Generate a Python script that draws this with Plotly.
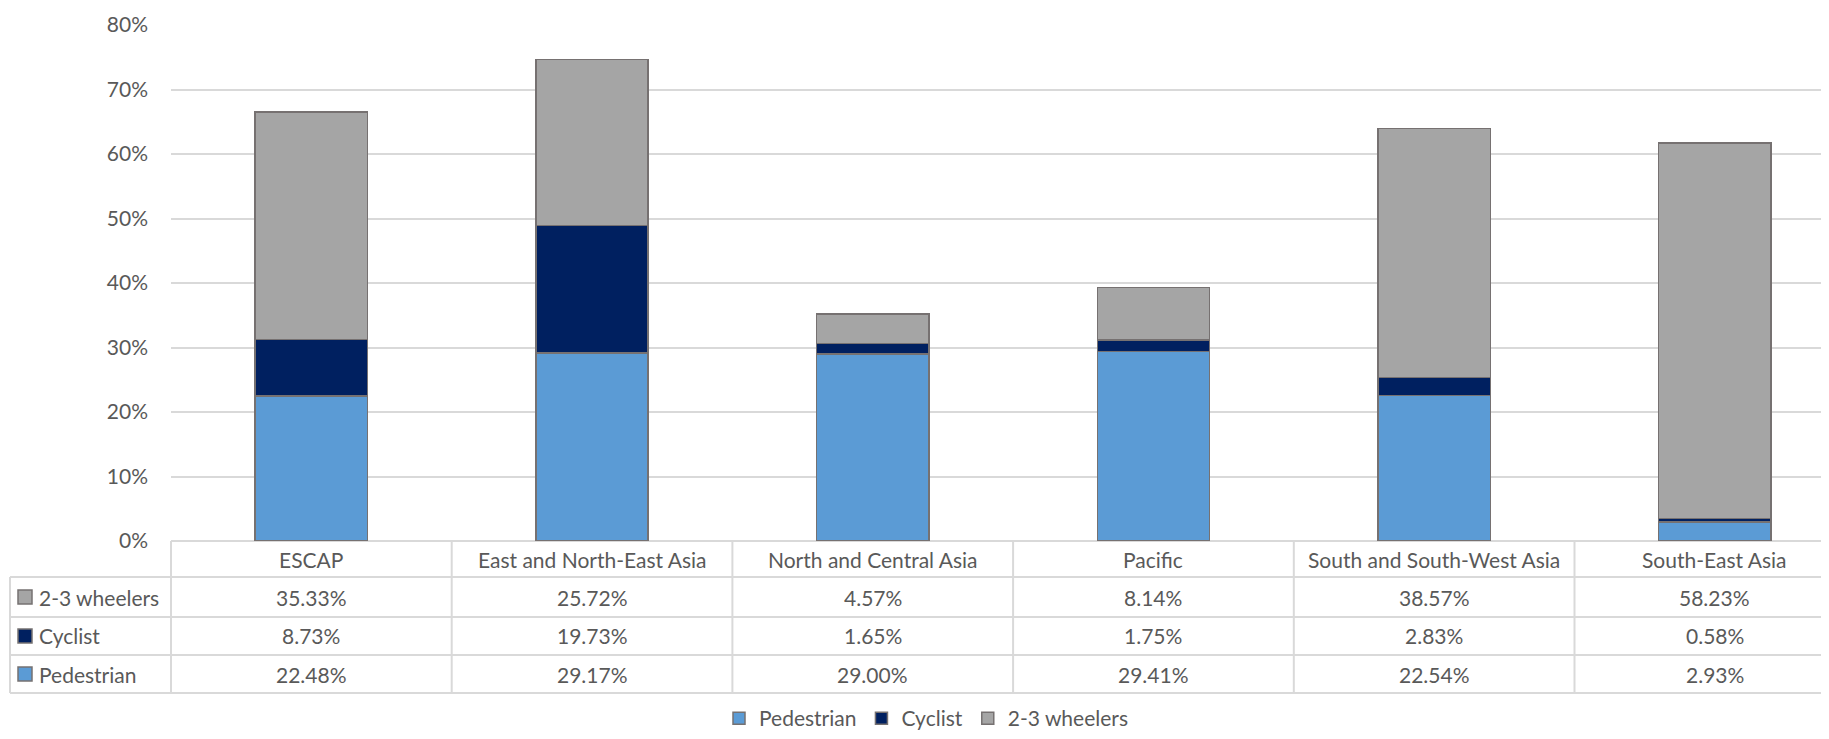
import plotly.graph_objects as go

regions = ["ESCAP", "East and North-East Asia", "North and Central Asia", "Pacific",
           "South and South-West Asia", "South-East Asia"]
pedestrian = [22.48, 29.17, 29.00, 29.41, 22.54, 2.93]
cyclist = [8.73, 19.73, 1.65, 1.75, 2.83, 0.58]
wheelers = [35.33, 25.72, 4.57, 8.14, 38.57, 58.23]

series = [("Pedestrian", pedestrian, "#5B9BD5"),
          ("Cyclist", cyclist, "#002060"),
          ("2-3 wheelers", wheelers, "#A5A5A5")]

FONT = "Lato, 'Open Sans', sans-serif"
TXT = "#595959"
GRID = "#D9D9D9"
FS = 21

# page body has an 8px margin, so the figure is shifted by OFF
OFF = 8
W, H = 1829 - OFF, 739 - OFF
plot_left, plot_top, plot_bottom = 171, 25, 541   # in page pixels
L = plot_left - OFF
T = plot_top - OFF
B = H - (plot_bottom - OFF)
plot_w = W - L
plot_h = H - T - B
col_w = 280.7
x_lo = -0.5
x_hi = x_lo + plot_w / col_w


def px_x(p):
    return (p - plot_left) / plot_w


def px_y(p):
    return (plot_bottom - p) / plot_h


fig = go.Figure()
for name, vals, col in series:
    fig.add_trace(go.Bar(x=list(range(len(regions))), y=vals, name=name, width=0.4,
                         marker=dict(color=col, line=dict(color="#767171", width=1.5))))

# data table grid
shapes = []
line = dict(color=GRID, width=2)
row_tops = [541, 577, 617, 655, 693]
for yy in row_tops[1:]:
    shapes.append(dict(type="line", xref="paper", yref="paper", x0=px_x(10), x1=1,
                       y0=px_y(yy), y1=px_y(yy), line=line))
shapes.append(dict(type="line", xref="paper", yref="paper", x0=px_x(10), x1=px_x(10),
                   y0=px_y(577), y1=px_y(693), line=line))
for i in range(len(regions)):
    xx = (i - 0.5 - x_lo) / (x_hi - x_lo)
    shapes.append(dict(type="line", xref="paper", yref="paper", x0=xx, x1=xx,
                       y0=px_y(541), y1=px_y(693), line=line))

annotations = []
for i, r in enumerate(regions):
    annotations.append(dict(x=i, y=px_y(559), xref="x", yref="paper", text=r, showarrow=False,
                            xanchor="center", yanchor="middle",
                            font=dict(size=FS, color=TXT, family=FONT)))

row_order = [series[2], series[1], series[0]]
for k, (name, vals, col) in enumerate(row_order):
    yc = (row_tops[k + 1] + row_tops[k + 2]) / 2
    shapes.append(dict(type="rect", xref="paper", yref="paper",
                       x0=px_x(18), x1=px_x(32), y0=px_y(yc - 7), y1=px_y(yc + 7),
                       fillcolor=col, line=dict(color="#767171", width=1.5)))
    annotations.append(dict(x=px_x(37), y=px_y(yc), xref="paper", yref="paper", text=name,
                            xanchor="left", yanchor="middle", showarrow=False,
                            font=dict(size=FS, color=TXT, family=FONT)))
    for i, v in enumerate(vals):
        annotations.append(dict(x=i, y=px_y(yc), xref="x", yref="paper", text=f"{v:.2f}%",
                                xanchor="center", yanchor="middle", showarrow=False,
                                font=dict(size=FS, color=TXT, family=FONT)))

fig.update_layout(
    width=W, height=H,
    barmode="stack",
    plot_bgcolor="white", paper_bgcolor="white",
    margin=dict(l=L, r=0, t=T, b=B, autoexpand=False),
    font=dict(family=FONT, color=TXT, size=FS),
    xaxis=dict(range=[x_lo, x_hi], showticklabels=False, showgrid=False, zeroline=False,
               showline=False, ticks=""),
    yaxis=dict(range=[0, 80], dtick=10, ticksuffix="%", gridcolor=GRID, gridwidth=2,
               zeroline=True, zerolinecolor=GRID, zerolinewidth=2, showline=False,
               ticklabelstandoff=22, tickfont=dict(size=FS, color=TXT)),
    legend=dict(orientation="h", x=px_x(926), xanchor="center", y=px_y(739), yanchor="bottom",
                traceorder="normal", font=dict(size=FS, color=TXT), itemwidth=30),
    shapes=shapes,
    annotations=annotations,
)

fig.write_html("out.html")
